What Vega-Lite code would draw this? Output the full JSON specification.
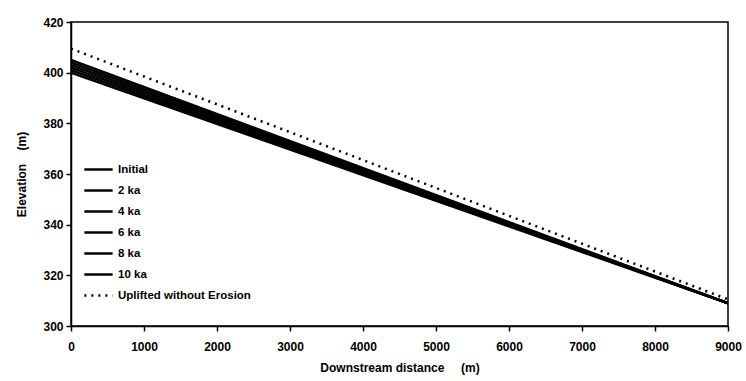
{
  "$schema": "https://vega.github.io/schema/vega-lite/v6.json",
  "width": 657,
  "height": 304,
  "autosize": {"type": "none"},
  "padding": {"left": 71, "top": 22, "right": 18, "bottom": 55},
  "background": "white",
  "config": {
    "font": "Liberation Sans",
    "view": {"stroke": "black", "strokeWidth": 1.5},
    "axis": {
      "labelFont": "Liberation Sans",
      "labelFontWeight": "bold",
      "labelFontSize": 12,
      "labelColor": "black",
      "titleFont": "Liberation Sans",
      "titleFontWeight": "bold",
      "titleFontSize": 12,
      "titleColor": "black",
      "domainColor": "black",
      "domainWidth": 1.5,
      "tickColor": "black",
      "tickWidth": 1.5,
      "tickSize": 5,
      "grid": false
    }
  },
  "data": {
    "values": [
      {"series": "Initial", "x": 0, "y": 400}, {"series": "Initial", "x": 1000, "y": 389.89}, {"series": "Initial", "x": 2000, "y": 379.78}, {"series": "Initial", "x": 3000, "y": 369.67}, {"series": "Initial", "x": 4000, "y": 359.56}, {"series": "Initial", "x": 5000, "y": 349.44}, {"series": "Initial", "x": 6000, "y": 339.33}, {"series": "Initial", "x": 7000, "y": 329.22}, {"series": "Initial", "x": 8000, "y": 319.11}, {"series": "Initial", "x": 9000, "y": 309},
      {"series": "2 ka", "x": 0, "y": 401}, {"series": "2 ka", "x": 1000, "y": 390.78}, {"series": "2 ka", "x": 2000, "y": 380.56}, {"series": "2 ka", "x": 3000, "y": 370.33}, {"series": "2 ka", "x": 4000, "y": 360.11}, {"series": "2 ka", "x": 5000, "y": 349.89}, {"series": "2 ka", "x": 6000, "y": 339.67}, {"series": "2 ka", "x": 7000, "y": 329.44}, {"series": "2 ka", "x": 8000, "y": 319.22}, {"series": "2 ka", "x": 9000, "y": 309},
      {"series": "4 ka", "x": 0, "y": 402}, {"series": "4 ka", "x": 1000, "y": 391.67}, {"series": "4 ka", "x": 2000, "y": 381.33}, {"series": "4 ka", "x": 3000, "y": 371.0}, {"series": "4 ka", "x": 4000, "y": 360.67}, {"series": "4 ka", "x": 5000, "y": 350.33}, {"series": "4 ka", "x": 6000, "y": 340.0}, {"series": "4 ka", "x": 7000, "y": 329.67}, {"series": "4 ka", "x": 8000, "y": 319.33}, {"series": "4 ka", "x": 9000, "y": 309},
      {"series": "6 ka", "x": 0, "y": 403}, {"series": "6 ka", "x": 1000, "y": 392.56}, {"series": "6 ka", "x": 2000, "y": 382.11}, {"series": "6 ka", "x": 3000, "y": 371.67}, {"series": "6 ka", "x": 4000, "y": 361.22}, {"series": "6 ka", "x": 5000, "y": 350.78}, {"series": "6 ka", "x": 6000, "y": 340.33}, {"series": "6 ka", "x": 7000, "y": 329.89}, {"series": "6 ka", "x": 8000, "y": 319.44}, {"series": "6 ka", "x": 9000, "y": 309},
      {"series": "8 ka", "x": 0, "y": 404}, {"series": "8 ka", "x": 1000, "y": 393.44}, {"series": "8 ka", "x": 2000, "y": 382.89}, {"series": "8 ka", "x": 3000, "y": 372.33}, {"series": "8 ka", "x": 4000, "y": 361.78}, {"series": "8 ka", "x": 5000, "y": 351.22}, {"series": "8 ka", "x": 6000, "y": 340.67}, {"series": "8 ka", "x": 7000, "y": 330.11}, {"series": "8 ka", "x": 8000, "y": 319.56}, {"series": "8 ka", "x": 9000, "y": 309},
      {"series": "10 ka", "x": 0, "y": 405}, {"series": "10 ka", "x": 1000, "y": 394.33}, {"series": "10 ka", "x": 2000, "y": 383.67}, {"series": "10 ka", "x": 3000, "y": 373.0}, {"series": "10 ka", "x": 4000, "y": 362.33}, {"series": "10 ka", "x": 5000, "y": 351.67}, {"series": "10 ka", "x": 6000, "y": 341.0}, {"series": "10 ka", "x": 7000, "y": 330.33}, {"series": "10 ka", "x": 8000, "y": 319.67}, {"series": "10 ka", "x": 9000, "y": 309},
      {"series": "Uplifted without Erosion", "x": 0, "y": 409.5}, {"series": "Uplifted without Erosion", "x": 1000, "y": 398.5}, {"series": "Uplifted without Erosion", "x": 2000, "y": 387.5}, {"series": "Uplifted without Erosion", "x": 3000, "y": 376.5}, {"series": "Uplifted without Erosion", "x": 4000, "y": 365.5}, {"series": "Uplifted without Erosion", "x": 5000, "y": 354.5}, {"series": "Uplifted without Erosion", "x": 6000, "y": 343.5}, {"series": "Uplifted without Erosion", "x": 7000, "y": 332.5}, {"series": "Uplifted without Erosion", "x": 8000, "y": 321.5}, {"series": "Uplifted without Erosion", "x": 9000, "y": 310.5}
    ]
  },
  "mark": {"type": "line", "color": "black", "clip": true},
  "encoding": {
    "x": {
      "field": "x", "type": "quantitative",
      "scale": {"domain": [0, 9000], "nice": false},
      "axis": {"values": [0, 1000, 2000, 3000, 4000, 5000, 6000, 7000, 8000, 9000], "format": "d", "title": "Downstream distance\u00a0\u00a0\u00a0\u00a0\u00a0(m)", "labelPadding": 10, "titlePadding": 10, "labelFlush": false}
    },
    "y": {
      "field": "y", "type": "quantitative",
      "scale": {"domain": [300, 420], "nice": false, "zero": false},
      "axis": {"values": [300, 320, 340, 360, 380, 400, 420], "title": "Elevation\u00a0\u00a0\u00a0\u00a0(m)", "labelPadding": 3, "titlePadding": 14, "labelFlush": false}
    },
    "strokeDash": {
      "field": "series", "type": "nominal",
      "scale": {
        "domain": ["Initial", "2 ka", "4 ka", "6 ka", "8 ka", "10 ka", "Uplifted without Erosion"],
        "range": [[1, 0], [1, 0], [1, 0], [1, 0], [1, 0], [1, 0], [2, 5]]
      },
      "legend": {
        "title": null,
        "orient": "none",
        "legendX": 12,
        "legendY": 132,
        "symbolType": "stroke",
        "symbolStrokeColor": "black",
        "symbolSize": 800,
        "labelFont": "Liberation Sans",
        "labelFontWeight": "bold",
        "labelFontSize": 11.5,
        "labelColor": "black",
        "rowPadding": 0,
        "padding": 0,
        "labelOffset": 4
      }
    },
    "strokeWidth": {
      "field": "series", "type": "nominal",
      "scale": {
        "domain": ["Initial", "2 ka", "4 ka", "6 ka", "8 ka", "10 ka", "Uplifted without Erosion"],
        "range": [2.5, 2.5, 2.5, 2.5, 2.5, 3, 2]
      },
      "legend": {
        "title": null,
        "orient": "none",
        "legendX": 12,
        "legendY": 132,
        "symbolType": "stroke",
        "symbolStrokeColor": "black",
        "symbolSize": 800,
        "labelFont": "Liberation Sans",
        "labelFontWeight": "bold",
        "labelFontSize": 11.5,
        "labelColor": "black",
        "rowPadding": 0,
        "padding": 0,
        "labelOffset": 4
      }
    }
  }
}
